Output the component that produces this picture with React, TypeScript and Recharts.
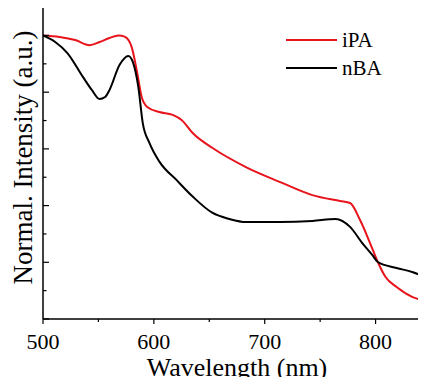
import React from 'react';
import { LineChart, Line, XAxis, YAxis } from 'recharts';

// iPA (red) spectrum: wavelength (nm) and normalized intensity
const ipaWavelength = [500, 515, 529, 542, 551, 560, 568, 574, 580, 585, 589, 594, 605, 617, 625, 635, 653, 683, 714, 743, 768, 777, 786, 795, 802, 809, 819, 833, 845, 850];
const ipaIntensity = [1.0, 0.995, 0.984, 0.966, 0.977, 0.991, 1.0, 0.995, 0.959, 0.868, 0.783, 0.748, 0.73, 0.72, 0.702, 0.656, 0.603, 0.536, 0.483, 0.437, 0.416, 0.409, 0.349, 0.268, 0.201, 0.148, 0.113, 0.078, 0.063, 0.055];

// nBA (black) spectrum
const nbaWavelength = [500, 511, 522, 536, 544, 551, 556, 560, 569, 577, 581, 586, 590, 596, 605, 621, 635, 653, 668, 683, 714, 743, 764, 777, 788, 797, 802, 819, 833, 845, 850];
const nbaIntensity = [1.0, 0.977, 0.938, 0.854, 0.808, 0.776, 0.783, 0.808, 0.896, 0.928, 0.907, 0.818, 0.691, 0.621, 0.555, 0.488, 0.432, 0.374, 0.353, 0.342, 0.342, 0.346, 0.353, 0.325, 0.268, 0.226, 0.201, 0.18, 0.166, 0.148, 0.14];

const xTicks = [500, 550, 600, 650, 700, 750, 800, 850];
const xMajor = [500, 600, 700, 800];
const yTicks = [0, 0.1, 0.2, 0.3, 0.4, 0.5, 0.6, 0.7, 0.8, 0.9, 1.0];

const seriesNames = ['iPA', 'nBA'];
const seriesColors = ['#e8141c', '#000000'];

const ipaData = ipaWavelength.map((w, i) => ({ w, v: ipaIntensity[i] }));
const nbaData = nbaWavelength.map((w, i) => ({ w, v: nbaIntensity[i] }));

const SERIF = 'Liberation Serif';

const XTick = (props: any) => {
  const { x, y, payload } = props;
  const major = xMajor.includes(payload.value);
  return (
    <g>
      <line x1={x} x2={x} y1={y} y2={y + (major ? 5 : 3)} stroke="#000" strokeWidth={1.2} />
      {major && (
        <text x={x} y={y + 30} textAnchor="middle" fontFamily={SERIF} fontSize={22} fill="#000">
          {String(payload.value)}
        </text>
      )}
    </g>
  );
};

const YTick = (props: any) => {
  const { x, y, payload } = props;
  const idx = Math.round(payload.value * 10);
  const major = idx % 2 === 0;
  return <line x1={x} x2={x + (major ? 6 : 3.5)} y1={y} y2={y} stroke="#000" strokeWidth={1.2} />;
};

const XTitle = (p: any) => {
  const vb = p.viewBox;
  return (
    <text x={vb.x + vb.width / 2} y={vb.y + 57} textAnchor="middle" fontFamily={SERIF} fontSize={26} fill="#000">
      Wavelength (nm)
    </text>
  );
};

const YTitle = (p: any) => {
  const vb = p.viewBox;
  const cx = 32;
  const cy = vb.y + vb.height / 2 - 5;
  return (
    <text x={cx} y={cy} transform={`rotate(-90 ${cx} ${cy})`} textAnchor="middle" fontFamily={SERIF} fontSize={27} fill="#000">
      Normal. Intensity (a.u.)
    </text>
  );
};

export default function App() {
  return (
    <div style={{ position: 'relative', margin: -8, width: 426, height: 385, overflow: 'hidden', background: '#fff' }}>
      <LineChart width={440} height={385} margin={{ top: 6, right: 9, bottom: 0, left: 0 }}>
        <XAxis
          xAxisId="b"
          dataKey="w"
          type="number"
          domain={[500, 850]}
          ticks={xTicks}
          allowDataOverflow
          height={66}
          tickLine={false}
          tickSize={0}
          tickMargin={0}
          axisLine={{ stroke: '#000', strokeWidth: 1.5 }}
          tick={<XTick />}
          interval={0}
          label={{ content: XTitle }}
        />
        <XAxis
          xAxisId="t"
          orientation="top"
          dataKey="w"
          type="number"
          domain={[500, 850]}
          height={0}
          tick={false}
          tickLine={false}
          axisLine={{ stroke: '#000', strokeWidth: 1.5 }}
        />
        <YAxis
          type="number"
          domain={[0, 1.104]}
          ticks={yTicks}
          allowDataOverflow
          width={43}
          tickLine={false}
          tickSize={0}
          tickMargin={0}
          interval={0}
          axisLine={{ stroke: '#000', strokeWidth: 1.5 }}
          tick={<YTick />}
          label={{ content: YTitle }}
        />
        <Line xAxisId="b" data={ipaData} dataKey="v" type="monotone" stroke={seriesColors[0]} strokeWidth={2} dot={false} isAnimationActive={false} name={seriesNames[0]} />
        <Line xAxisId="b" data={nbaData} dataKey="v" type="monotone" stroke={seriesColors[1]} strokeWidth={2} dot={false} isAnimationActive={false} name={seriesNames[1]} />
      </LineChart>
      {seriesNames.map((n, i) => (
        <div key={n} style={{ position: 'absolute', left: 286, top: 28 + i * 28, height: 24, display: 'flex', alignItems: 'center' }}>
          <div style={{ width: 51, height: 2, background: seriesColors[i] }} />
          <span style={{ marginLeft: 5, fontFamily: SERIF, fontSize: 21, lineHeight: '24px', color: '#000' }}>{n}</span>
        </div>
      ))}
    </div>
  );
}
